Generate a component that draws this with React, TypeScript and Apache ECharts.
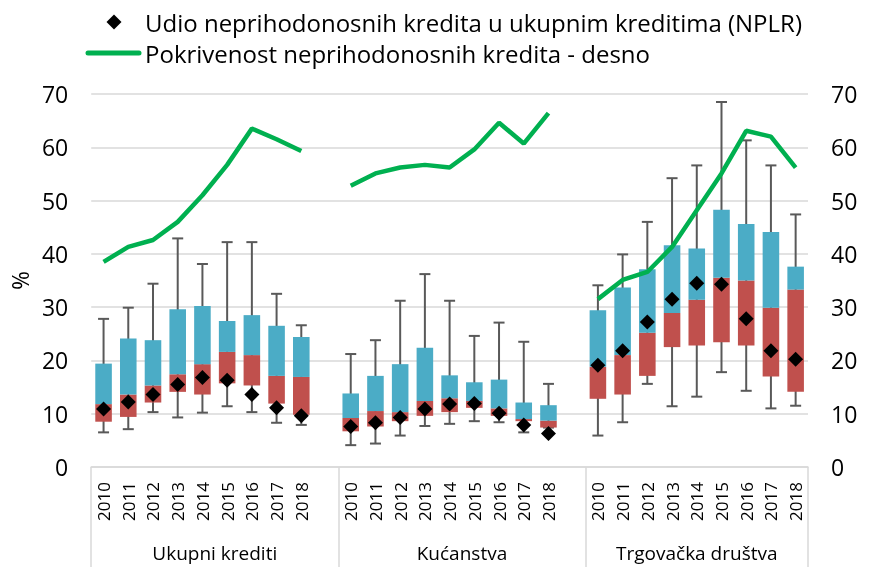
import React, { useEffect, useRef } from "react";
import * as echarts from "echarts";

const years = ["2010", "2011", "2012", "2013", "2014", "2015", "2016", "2017", "2018"];
const groupNames = ["Ukupni krediti", "Kućanstva", "Trgovačka društva"];

// Ukupni krediti
const totMax = [27.8, 29.9, 34.4, 42.9, 38.1, 42.2, 42.2, 32.5, 26.6];
const totQ3 = [19.4, 24.1, 23.8, 29.6, 30.2, 27.4, 28.5, 26.5, 24.4];
const totMed = [11.8, 13.6, 15.3, 17.4, 19.3, 21.6, 21.0, 17.1, 16.9];
const totQ1 = [8.5, 9.4, 12.1, 14.1, 13.6, 15.7, 15.3, 11.9, 9.8];
const totMin = [6.5, 7.1, 10.3, 9.3, 10.2, 11.4, 10.3, 8.3, 7.9];
const totNplr = [10.9, 12.2, 13.6, 15.5, 16.8, 16.3, 13.6, 11.1, 9.6];
const totCov = [38.5, 41.3, 42.6, 46.0, 51.0, 56.7, 63.5, 61.5, 59.3];

// Kućanstva
const hhMax = [21.2, 23.8, 31.2, 36.2, 31.2, 24.6, 27.1, 23.5, 15.6];
const hhQ3 = [13.8, 17.1, 19.3, 22.4, 17.2, 15.9, 16.4, 12.1, 11.6];
const hhMed = [9.2, 10.5, 10.3, 12.4, 12.9, 12.4, 11.0, 9.0, 8.7];
const hhQ1 = [6.7, 7.6, 8.6, 9.6, 10.3, 11.1, 9.6, 8.6, 7.4];
const hhMin = [4.1, 4.4, 5.9, 7.7, 8.1, 8.6, 8.4, 6.5, 7.4];
const hhNplr = [7.6, 8.3, 9.3, 10.9, 11.8, 11.9, 10.1, 7.9, 6.3];
const hhCov = [52.8, 55.1, 56.2, 56.7, 56.2, 59.6, 64.6, 60.7, 66.4];

// Trgovačka društva
const nfcMax = [34.1, 39.9, 46.0, 54.2, 56.6, 68.5, 61.3, 56.6, 47.4];
const nfcQ3 = [29.4, 33.7, 37.1, 41.6, 41.0, 48.3, 45.6, 44.1, 37.6];
const nfcMed = [18.8, 21.0, 25.2, 28.9, 31.4, 35.5, 35.0, 29.9, 33.3];
const nfcQ1 = [12.8, 13.6, 17.1, 22.5, 22.8, 23.4, 22.8, 17.0, 14.1];
const nfcMin = [5.9, 8.4, 15.6, 11.4, 13.2, 17.8, 14.3, 11.0, 11.5];
const nfcNplr = [19.1, 21.8, 27.2, 31.5, 34.5, 34.3, 27.8, 21.8, 20.2];
const nfcCov = [31.5, 35.1, 36.6, 41.3, 48.2, 55.1, 63.1, 62.0, 56.2];

const legendNplr = "Udio neprihodonosnih kredita u ukupnim kreditima (NPLR)";
const legendCov = "Pokrivenost neprihodonosnih kredita - desno";

type V = number | null;
const join = (a: V[], b: V[], c: V[]): V[] => [...a, null, ...b, null, ...c];

const categories: string[] = join(years as any, years as any, years as any).map((v) => (v == null ? "" : String(v)));
const maxAll = join(totMax, hhMax, nfcMax);
const q3All = join(totQ3, hhQ3, nfcQ3);
const medAll = join(totMed, hhMed, nfcMed);
const q1All = join(totQ1, hhQ1, nfcQ1);
const minAll = join(totMin, hhMin, nfcMin);
const nplrAll = join(totNplr, hhNplr, nfcNplr);
const covAll = join(totCov, hhCov, nfcCov);

const FONT = "'Open Sans', sans-serif";

export default function App() {
  const ref = useRef<HTMLDivElement>(null);
  useEffect(() => {
    if (!ref.current) return;
    const chart = echarts.init(ref.current, undefined, { renderer: "svg" });
    const whiskers = minAll
      .map((m, i) => (m == null ? null : [i, m, maxAll[i]]))
      .filter((d) => d != null);
    const redPart = medAll.map((m, i) => (m == null ? "-" : +(m - (q1All[i] as number)).toFixed(2)));
    const bluePart = q3All.map((q, i) => (q == null ? "-" : +(q - (medAll[i] as number)).toFixed(2)));
    const base = q1All.map((q) => (q == null ? "-" : q));
    const groupLabelPos: Record<string, string> = { "5": groupNames[0], "15": groupNames[1], "24.5": groupNames[2] };

    chart.setOption({
      animation: false,
      textStyle: { fontFamily: FONT },
      grid: { left: 85, right: 63, top: 94, bottom: 100, containLabel: false },
      xAxis: [
        {
          type: "category",
          data: categories,
          boundaryGap: true,
          axisLine: { show: true, lineStyle: { color: "#d9d9d9", width: 1.5 } },
          axisTick: {
            show: true,
            interval: (i: number) => i === 0 || i === 10 || i === 20,
            length: 100,
            lineStyle: { color: "#d9d9d9", width: 1.5 },
          },
          axisLabel: { rotate: 90, interval: 0, fontSize: 17, color: "#000", margin: 15, fontFamily: FONT },
          splitLine: { show: false },
        },
        {
          type: "value",
          min: 0,
          max: 29,
          interval: 0.5,
          position: "bottom",
          axisLine: { show: false },
          axisTick: { show: false },
          splitLine: { show: false },
          axisLabel: {
            fontSize: 19,
            color: "#000",
            margin: 76,
            fontFamily: FONT,
            showMinLabel: true,
            showMaxLabel: true,
            formatter: (v: number) => groupLabelPos[String(v)] || "",
          },
        },
      ],
      yAxis: [
        {
          type: "value",
          min: 0,
          max: 70,
          interval: 10,
          name: "%",
          nameLocation: "middle",
          nameGap: 58,
          nameRotate: 90,
          nameTextStyle: { fontSize: 23, color: "#000", fontFamily: FONT },
          axisLine: { show: false },
          axisTick: { show: false },
          axisLabel: { fontSize: 23, color: "#000", margin: 23, fontFamily: FONT },
          splitLine: { show: true, lineStyle: { color: "#d9d9d9", width: 1.5 } },
        },
        {
          type: "value",
          min: 0,
          max: 70,
          interval: 10,
          position: "right",
          axisLine: { show: false },
          axisTick: { show: false },
          axisLabel: { fontSize: 23, color: "#000", margin: 23, fontFamily: FONT },
          splitLine: { show: false },
        },
      ],
      series: [
        {
          type: "custom",
          name: "whiskers",
          z: 1,
          data: whiskers,
          encode: { x: 0, y: [1, 2] },
          renderItem: (params: any, api: any) => {
            const x = api.value(0);
            const lo = api.coord([x, api.value(1)]);
            const hi = api.coord([x, api.value(2)]);
            const half = 5.5;
            const st = { stroke: "#595959", lineWidth: 2 };
            return {
              type: "group",
              children: [
                { type: "line", shape: { x1: lo[0], y1: lo[1], x2: hi[0], y2: hi[1] }, style: st },
                { type: "line", shape: { x1: hi[0] - half, y1: hi[1], x2: hi[0] + half, y2: hi[1] }, style: st },
                { type: "line", shape: { x1: lo[0] - half, y1: lo[1], x2: lo[0] + half, y2: lo[1] }, style: st },
              ],
            };
          },
        },
        {
          type: "bar",
          name: "base",
          stack: "box",
          z: 2,
          barWidth: "67%",
          itemStyle: { color: "transparent" },
          data: base,
        },
        {
          type: "bar",
          name: "q1-med",
          stack: "box",
          z: 2,
          barWidth: "67%",
          itemStyle: { color: "#c0504d" },
          data: redPart,
        },
        {
          type: "bar",
          name: "med-q3",
          stack: "box",
          z: 2,
          barWidth: "67%",
          itemStyle: { color: "#4bacc6" },
          data: bluePart,
        },
        {
          type: "line",
          name: legendCov,
          yAxisIndex: 1,
          z: 4,
          data: covAll.map((v) => (v == null ? "-" : v)),
          symbol: "none",
          connectNulls: false,
          lineStyle: { color: "#00b050", width: 4.5 },
          itemStyle: { color: "#00b050" },
        },
        {
          type: "scatter",
          name: legendNplr,
          z: 5,
          symbol: "diamond",
          symbolSize: 15,
          itemStyle: { color: "#000", opacity: 1 },
          data: nplrAll.map((v) => (v == null ? "-" : v)),
        },
      ],
      graphic: [
        {
          type: "polygon",
          shape: { points: [[114, 14.5], [121.5, 22], [114, 29.5], [106.5, 22]] },
          style: { fill: "#000" },
        },
        {
          type: "text",
          x: 145,
          y: 22,
          style: { text: legendNplr, fontSize: 24, fill: "#000", fontFamily: FONT, verticalAlign: "middle" },
        },
        {
          type: "line",
          shape: { x1: 88, y1: 53, x2: 139, y2: 53 },
          style: { stroke: "#00b050", lineWidth: 5, lineCap: "round" },
        },
        {
          type: "text",
          x: 145,
          y: 53,
          style: { text: legendCov, fontSize: 24, fill: "#000", fontFamily: FONT, verticalAlign: "middle" },
        },
      ],
    });
    return () => chart.dispose();
  }, []);
  return <div ref={ref} style={{ position: "fixed", left: 0, top: 0, width: 871, height: 567 }} />;
}
